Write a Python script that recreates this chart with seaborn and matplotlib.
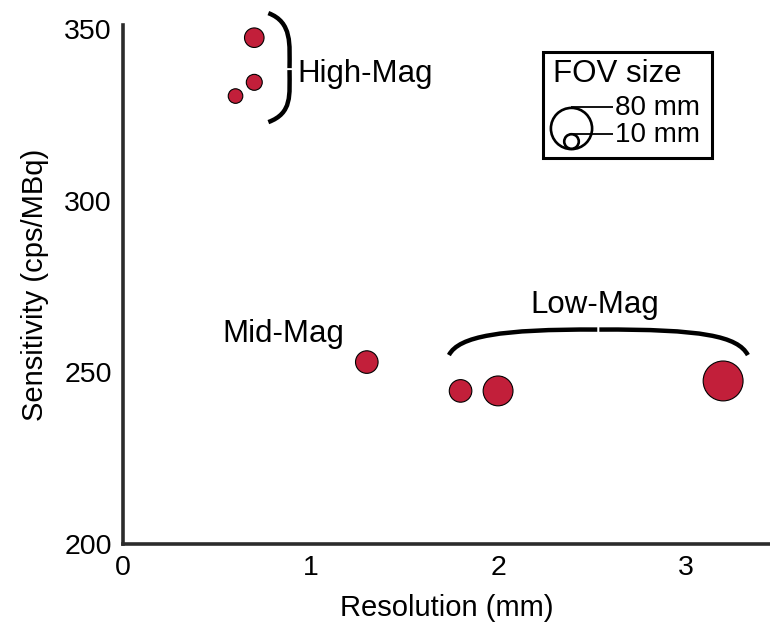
import numpy as np
import pandas as pd
import matplotlib
matplotlib.use("Agg")
import matplotlib.pyplot as plt
from matplotlib.path import Path
from matplotlib.patches import PathPatch, Rectangle
import seaborn as sns

# Scanner configurations: resolution, sensitivity and field-of-view size
resolution = [0.6, 0.7, 0.7, 1.3, 1.8, 2.0, 3.2]          # mm
sensitivity = [330.5, 334.5, 347.5, 253.0, 244.6, 244.6, 247.5]  # cps/MBq
fov_size = [10, 12, 18, 24, 24, 42, 75]                  # mm
legend_fov = [80, 10]                                    # mm
x_ticks = [0, 1, 2, 3]
y_ticks = [200, 250, 300, 350]

POINT_COLOR = "#C21F3A"
AXIS_COLOR = "#2b2b2b"
SIZE_K = 11.0  # marker area (pt^2) per mm of FOV

sns.set_style("white")
plt.rcParams["font.family"] = ["Liberation Sans", "DejaVu Sans"]
plt.rcParams["text.color"] = "black"
plt.rcParams["axes.labelcolor"] = "black"

df = pd.DataFrame({"resolution": resolution,
                   "sensitivity": sensitivity,
                   "fov": fov_size})

fig = plt.figure(figsize=(7.7, 6.24), dpi=100)
ax = fig.add_axes([123 / 770, 80 / 624, 1 - 123 / 770, 519 / 624])

sns.scatterplot(data=df, x="resolution", y="sensitivity", size="fov",
                sizes=(SIZE_K * 10, SIZE_K * 80), size_norm=(10, 80),
                color=POINT_COLOR, edgecolor="black", linewidth=0.8,
                alpha=1, legend=False, ax=ax, zorder=3, clip_on=False)

ax.set_xlim(0, 3.45)
ax.set_ylim(200, 351.2)

# Axes styling: only left and bottom spines, inward ticks
for side in ("top", "right"):
    ax.spines[side].set_visible(False)
for side in ("left", "bottom"):
    ax.spines[side].set_linewidth(2.6)
    ax.spines[side].set_color(AXIS_COLOR)

half_steps = np.arange(0, 3.5, 0.5)
ax.set_xticks(half_steps)
ax.set_xticklabels([f"{int(t)}" if int(t) == t and int(t) in x_ticks else ""
                    for t in half_steps])
ax.set_yticks(y_ticks)
ax.set_yticklabels([str(t) for t in y_ticks])
ax.tick_params(axis="both", direction="in", length=5, width=2.4,
               color=AXIS_COLOR, labelsize=20.5, labelcolor="black")
ax.tick_params(axis="x", pad=8)
ax.tick_params(axis="y", pad=8)

ax.set_xlabel("Resolution (mm)", fontsize=21, labelpad=9)
ax.set_ylabel("Sensitivity (cps/MBq)", fontsize=21, labelpad=11)


def brace(ax, halves, lw=3.2):
    """Draw a curly brace as two cubic Bezier halves."""
    for pts in halves:
        path = Path(pts, [Path.MOVETO, Path.CURVE4, Path.CURVE4, Path.CURVE4])
        ax.add_patch(PathPatch(path, facecolor="none", edgecolor="black",
                               lw=lw, capstyle="butt", clip_on=False, zorder=4))


# High-Mag group brace
brace(ax, [
    [(0.775, 354.66), (0.904, 352.04), (0.888, 345.34), (0.888, 338.64)],
    [(0.888, 338.06), (0.888, 330.78), (0.904, 325.53), (0.775, 322.91)],
])
# Low-Mag group brace
brace(ax, [
    [(1.738, 255.04), (1.791, 260.57), (2.016, 262.61), (2.529, 262.47)],
    [(2.540, 262.47), (3.086, 262.61), (3.278, 260.57), (3.332, 255.04)],
])

ax.text(0.93, 334.6, "High-Mag", fontsize=22.5, ha="left", va="baseline")
ax.text(2.513, 267.3, "Low-Mag", fontsize=22.5, ha="center", va="baseline")
ax.text(0.529, 258.8, "Mid-Mag", fontsize=22.5, ha="left", va="baseline")

# FOV size key, laid out in figure pixel units
key = fig.add_axes([0, 0, 1, 1], zorder=5)
key.set_xlim(0, 770)
key.set_ylim(624, 0)
key.axis("off")
key.patch.set_visible(False)

key.add_patch(Rectangle((543, 52), 169, 106, facecolor="white",
                        edgecolor="black", lw=2.2))
key.text(553, 74, "FOV size", fontsize=22.5, ha="left", va="center")

px_per_pt = 100 / 72
bottom_y = 148.5
cx = 571
for fov in legend_fov:
    s = SIZE_K * fov
    r = np.sqrt(s) / 2 * px_per_pt
    cy = bottom_y - r
    key.scatter([cx], [cy], s=s, facecolor="white", edgecolor="black",
                linewidth=1.9, zorder=6)
    top = cy - r
    key.plot([cx, 613], [top, top], color="black", lw=1.3, zorder=7,
             solid_capstyle="butt")
    key.text(615, top + 1, f"{fov} mm", fontsize=20, ha="left", va="center")

fig.savefig("out.png", dpi=100)
